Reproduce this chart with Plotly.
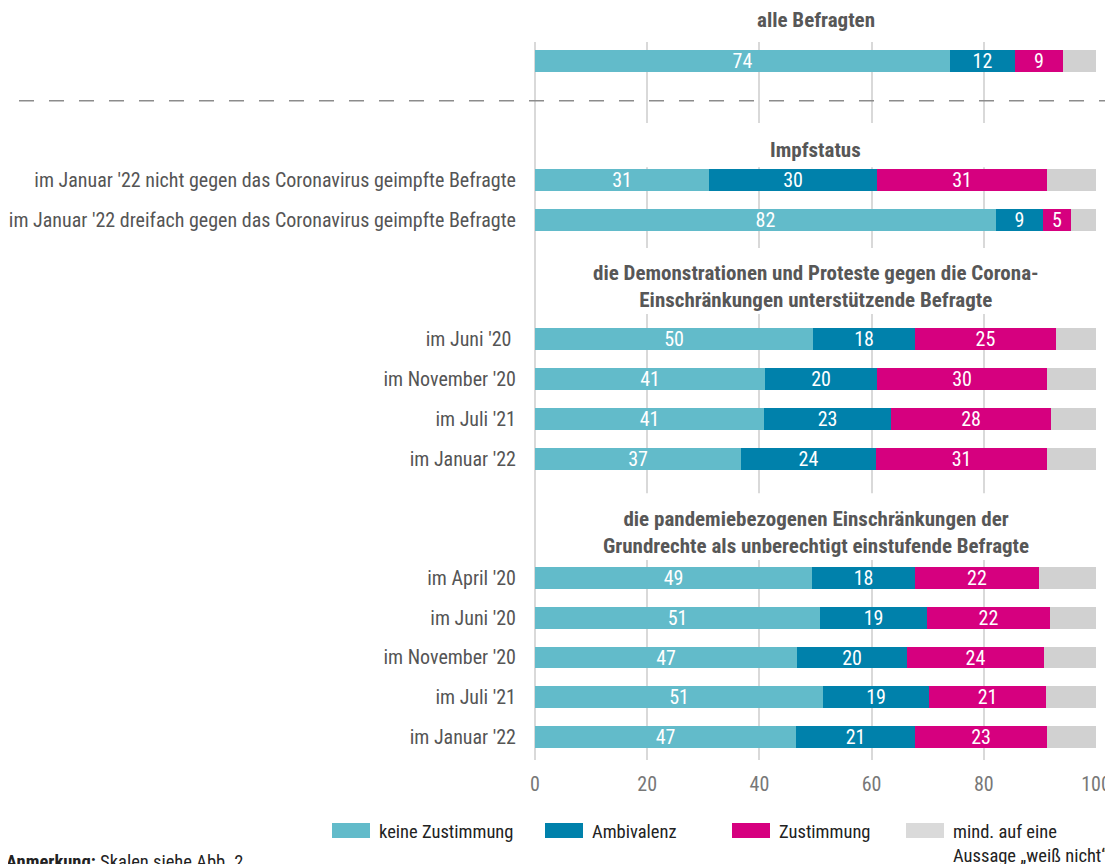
import plotly.graph_objects as go

# group titles and row labels (top to bottom)
group_titles = [
    "alle Befragten",
    "Impfstatus",
    "die Demonstrationen und Proteste gegen die Corona-<br>Einschränkungen unterstützende Befragte",
    "die pandemiebezogenen Einschränkungen der<br>Grundrechte als unberechtigt einstufende Befragte",
]
row_group = [0, 1, 1, 2, 2, 2, 2, 3, 3, 3, 3, 3]
row_labels = [
    "",
    "im Januar '22 nicht gegen das Coronavirus geimpfte Befragte",
    "im Januar '22 dreifach gegen das Coronavirus geimpfte Befragte",
    "im Juni '20 ",
    "im November '20",
    "im Juli '21",
    "im Januar '22",
    "im April '20",
    "im Juni '20",
    "im November '20",
    "im Juli '21",
    "im Januar '22",
]

# shares in percent
keine = [73.9, 31.0, 82.2, 49.6, 41.0, 40.8, 36.8, 49.4, 50.8, 46.7, 51.4, 46.5]
ambivalenz = [11.6, 29.9, 8.4, 18.2, 19.9, 22.7, 23.9, 18.4, 19.0, 19.6, 18.9, 21.3]
zustimmung = [8.6, 30.4, 5.0, 25.1, 30.3, 28.4, 30.5, 22.0, 22.0, 24.4, 20.7, 23.4]
weiss_nicht = [5.9, 8.7, 4.4, 7.1, 8.8, 8.1, 8.8, 10.2, 8.2, 9.3, 9.0, 8.8]

# printed (rounded) labels inside the bars
keine_lbl = [74, 31, 82, 50, 41, 41, 37, 49, 51, 47, 51, 47]
ambivalenz_lbl = [12, 30, 9, 18, 20, 23, 24, 18, 19, 20, 19, 21]
zustimmung_lbl = [9, 31, 5, 25, 30, 28, 31, 22, 22, 24, 21, 23]

series_names = ["keine Zustimmung", "Ambivalenz", "Zustimmung", "mind. auf eine<br>Aussage „weiß nicht“"]
colors = ["#62bbca", "#0081ab", "#d6007f", "#d1d1d1"]
legend_colors = ["#62bbca", "#0081ab", "#d6007f", "#dadada"]

FONT = "Roboto Condensed, Liberation Sans Narrow, Arial Narrow, Roboto, sans-serif"

# y positions: 3 slots gap between groups, 1 slot between rows
ypos = []
pos = 0
for i, g in enumerate(row_group):
    if i > 0:
        pos += 3 if g != row_group[i - 1] else 1
    ypos.append(pos)

Y_RANGE = [17.58, -0.48]


def to_paper(y):
    return (Y_RANGE[0] - y) / (Y_RANGE[0] - Y_RANGE[1])


# page pixel -> paper helpers (plot area spans x 535..1096, y 42..760 on the page)
def px_x(px):
    return (px - 535) / 561


def px_y(py):
    return (760 - py) / 718


fig = go.Figure()
values = [keine, ambivalenz, zustimmung, weiss_nicht]
labels = [keine_lbl, ambivalenz_lbl, zustimmung_lbl, None]
for name, vals, lbl, col in zip(series_names, values, labels, colors):
    fig.add_trace(go.Bar(
        x=vals, y=ypos, orientation="h", name=name,
        marker=dict(color=col, line=dict(width=0)),
        width=0.55,
        text=[str(v) for v in lbl] if lbl else None,
        textposition="inside" if lbl else "none",
        insidetextanchor="middle",
        constraintext="none",
        textangle=0,
        textfont=dict(color="white", size=20, family=FONT),
        hoverinfo="x+y",
        showlegend=False,
    ))

# white boxes hiding inner gridlines behind the group titles
title_boxes = [(1.56, 2.67), (4.70, 6.36), (10.87, 12.55)]
for y0, y1 in title_boxes:
    fig.add_shape(type="rect", xref="x", yref="y", x0=0.4, x1=99.6, y0=y0, y1=y1,
                  fillcolor="white", line=dict(width=0), layer="between")

# group titles
title_y = [-1.03, 2.24, 5.66, 11.86]
for t, ty in zip(group_titles, title_y):
    fig.add_annotation(x=0.5, y=to_paper(ty), xref="paper", yref="paper",
                       xanchor="center", yanchor="middle", text="<b>" + t + "</b>",
                       showarrow=False, font=dict(size=21, color="#575757", family=FONT),
                       align="center")

# dashed separator below "alle Befragten"
fig.add_shape(type="line", xref="paper", yref="paper", x0=px_x(19), x1=px_x(1113),
              y0=to_paper(1.0), y1=to_paper(1.0),
              line=dict(color="#8c8c8c", width=1.5, dash="15px,15px"))

# manual legend
leg_x = [332, 545, 732, 906]
for name, col, lx in zip(series_names, legend_colors, leg_x):
    fig.add_shape(type="rect", xref="paper", yref="paper",
                  x0=px_x(lx), x1=px_x(lx + 38), y0=px_y(823), y1=px_y(838),
                  fillcolor=col, line=dict(width=0))
    fig.add_annotation(xref="paper", yref="paper", x=px_x(lx + 45), y=px_y(819),
                       xanchor="left", yanchor="top", text=name, showarrow=False, align="left",
                       font=dict(size=18.5, color="#222222", family=FONT))

fig.add_annotation(xref="paper", yref="paper", x=px_x(4), y=px_y(849),
                   xanchor="left", yanchor="top", showarrow=False,
                   text="<b>Anmerkung:</b> Skalen siehe Abb. 2",
                   font=dict(size=18.5, color="#222222", family=FONT))

# page body has an 8px margin, so the figure is 8px smaller and shifted
fig.update_layout(
    barmode="stack",
    width=1105, height=856,
    margin=dict(l=527, r=17, t=34, b=104, autoexpand=False),
    plot_bgcolor="white", paper_bgcolor="white",
    font=dict(family=FONT, color="#555555"),
    bargap=0,
)
fig.update_xaxes(range=[0, 100], tickvals=[0, 20, 40, 60, 80, 100],
                 showgrid=True, gridcolor="#d9d9d9", gridwidth=2,
                 zeroline=True, zerolinecolor="#d9d9d9", zerolinewidth=2,
                 showline=False, ticks="", ticklabelstandoff=10, automargin=False,
                 tickfont=dict(size=20, color="#777777", family=FONT))
fig.update_yaxes(range=Y_RANGE, tickvals=ypos, ticktext=row_labels,
                 showgrid=False, zeroline=False, showline=False, ticks="",
                 ticklabelstandoff=18, automargin=False,
                 tickfont=dict(size=20, color="#555555", family=FONT))

fig.write_html("out.html")
